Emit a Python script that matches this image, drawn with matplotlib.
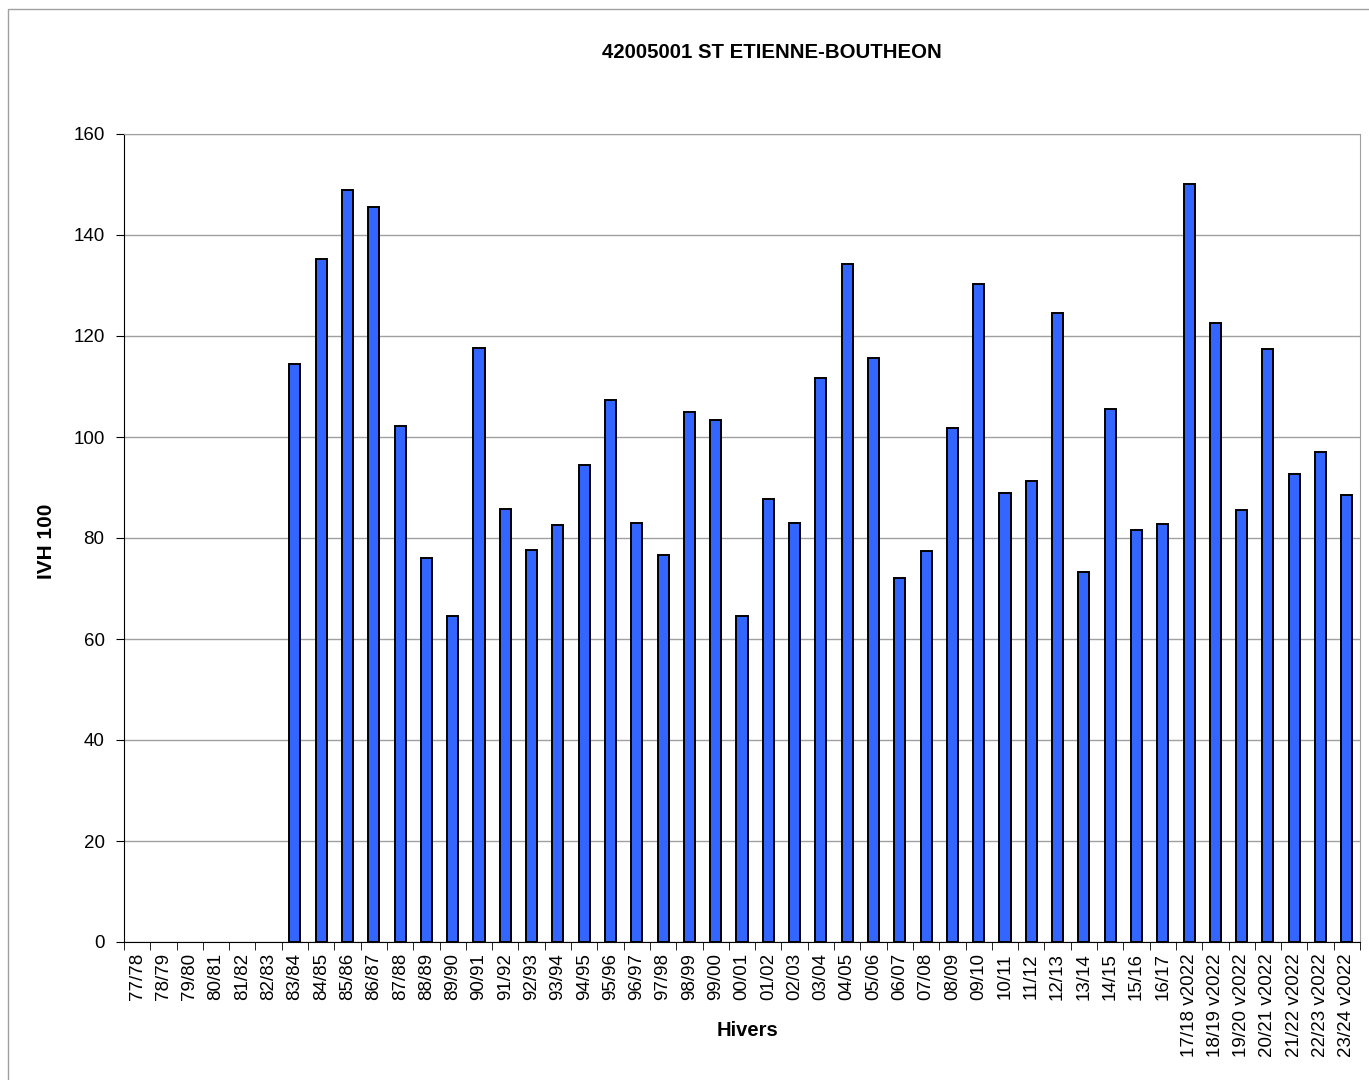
import matplotlib
matplotlib.use("Agg")
import matplotlib.pyplot as plt
from matplotlib.patches import Rectangle
from matplotlib.ticker import FixedLocator, NullFormatter
import numpy as np

plt.rcParams['font.family'] = ['Liberation Sans', 'DejaVu Sans']

hivers = ['77/78', '78/79', '79/80', '80/81', '81/82', '82/83', '83/84', '84/85',
          '85/86', '86/87', '87/88', '88/89', '89/90', '90/91', '91/92', '92/93',
          '93/94', '94/95', '95/96', '96/97', '97/98', '98/99', '99/00', '00/01',
          '01/02', '02/03', '03/04', '04/05', '05/06', '06/07', '07/08', '08/09',
          '09/10', '10/11', '11/12', '12/13', '13/14', '14/15', '15/16', '16/17',
          '17/18 v2022', '18/19 v2022', '19/20 v2022', '20/21 v2022',
          '21/22 v2022', '22/23 v2022', '23/24 v2022']
ivh = [0, 0, 0, 0, 0, 0, 114.5, 135.3,
       148.9, 145.6, 102.2, 76.0, 64.6, 117.6, 85.7, 77.7,
       82.6, 94.5, 107.4, 83.0, 76.7, 105.0, 103.4, 64.5,
       87.8, 83.0, 111.6, 134.2, 115.6, 72.0, 77.5, 101.8,
       130.3, 88.9, 91.2, 124.6, 73.3, 105.5, 81.6, 82.8,
       150.1, 122.6, 85.5, 117.5, 92.6, 97.0, 88.6]

x = np.arange(len(hivers))

fig = plt.figure(figsize=(13.69, 10.8), dpi=100)
ax = fig.add_axes([124/1369, 1 - 942/1080, (1360-124)/1369, (942-134)/1080])

# bordure grise autour du graphique
fig.patches.append(Rectangle((8/1369, -0.01), 1.02, 1 - 9/1080 + 0.01, transform=fig.transFigure,
                             fill=False, edgecolor='#a0a0a0', linewidth=1))

# pas de contour pour les hivers sans donnée
lw = [0 if v == 0 else 1.4 for v in ivh]
ax.bar(x, ivh, width=0.42, color='#3366FF', edgecolor='black', linewidth=lw, zorder=3)

ax.set_xlim(-0.5, len(hivers) - 0.5)
ax.set_ylim(0, 160)
ax.set_yticks(np.arange(0, 161, 20))
ax.yaxis.grid(True, color='#a0a0a0', linewidth=1)
ax.set_axisbelow(True)
ax.tick_params(axis='y', labelsize=13.5, length=6, direction='out', pad=8)

ax.set_xticks(x)
ax.set_xticklabels(hivers, rotation=90, fontsize=13.5)
ax.tick_params(axis='x', length=0, pad=8)
ax.xaxis.set_minor_locator(FixedLocator(np.arange(-0.5, len(hivers), 1)))
ax.xaxis.set_minor_formatter(NullFormatter())
ax.tick_params(axis='x', which='minor', length=6, direction='out', color='black')

for s in ['top', 'right']:
    ax.spines[s].set_color('#a0a0a0')
ax.spines['left'].set_color('black')
ax.spines['bottom'].set_color('black')
ax.spines['bottom'].set_zorder(5)

fig.text(772/1369, 1 - 53/1080, '42005001 ST ETIENNE-BOUTHEON', ha='center', va='center',
         fontsize=14.7, fontweight='bold')
fig.text(747/1369, 1 - 1030/1080, 'Hivers', ha='center', va='center',
         fontsize=14.5, fontweight='bold')
fig.text(46/1369, 1 - 541/1080, 'IVH 100', ha='center', va='center', rotation=90,
         fontsize=15, fontweight='bold')

plt.savefig('out.png', dpi=100)
